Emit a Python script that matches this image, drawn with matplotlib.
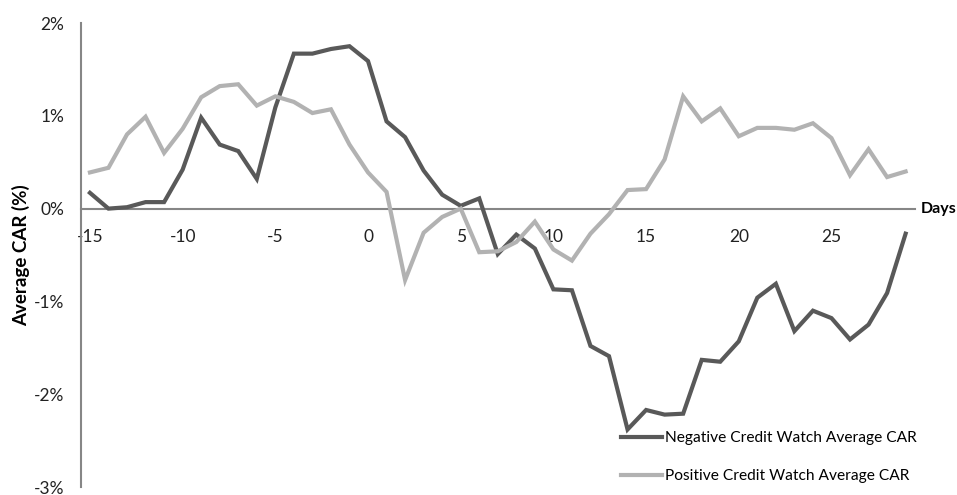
import matplotlib
matplotlib.use("Agg")
import matplotlib.pyplot as plt
import matplotlib.transforms as mtransforms
from matplotlib.ticker import FuncFormatter

days = list(range(-15, 30))
negative_car = [0.17, 0.00, 0.015, 0.07, 0.07, 0.42, 0.98, 0.69, 0.62, 0.32,
                1.09, 1.67, 1.67, 1.72, 1.75, 1.59, 0.94, 0.77, 0.41, 0.15,
                0.03, 0.11, -0.49, -0.28, -0.43, -0.87, -0.88, -1.48, -1.59, -2.38,
                -2.17, -2.22, -2.21, -1.63, -1.65, -1.43, -0.96, -0.81, -1.32, -1.10,
                -1.18, -1.41, -1.25, -0.91, -0.27]
positive_car = [0.39, 0.44, 0.80, 0.99, 0.60, 0.86, 1.20, 1.32, 1.34, 1.11,
                1.21, 1.15, 1.03, 1.07, 0.69, 0.39, 0.18, -0.77, -0.26, -0.09,
                0.00, -0.47, -0.46, -0.36, -0.14, -0.44, -0.56, -0.27, -0.06, 0.20,
                0.21, 0.53, 1.21, 0.94, 1.08, 0.78, 0.87, 0.87, 0.85, 0.92,
                0.76, 0.36, 0.64, 0.34, 0.40]
series_names = ["Negative Credit Watch Average CAR", "Positive Credit Watch Average CAR"]
y_ticks = [-3, -2, -1, 0, 1, 2]
x_ticks = [-15, -10, -5, 0, 5, 10, 15, 20, 25]

plt.rcParams['font.family'] = ['Lato', 'DejaVu Sans']
plt.rcParams['axes.unicode_minus'] = False

fig = plt.figure(figsize=(9.57, 4.95), dpi=100)
ax = fig.add_axes([0.0843, 0.01616, 0.956 - 0.0843, 0.9535 - 0.01616])

ax.plot(days, negative_car, color='#595959', lw=3.0, label=series_names[0], solid_joinstyle='miter')
ax.plot(days, positive_car, color='#b2b2b2', lw=3.0, label=series_names[1], solid_joinstyle='miter')

ax.set_xlim(-15.5, 29.5)
ax.set_ylim(-3, 2)
ax.set_yticks(y_ticks)
ax.yaxis.set_major_formatter(FuncFormatter(lambda v, p: f"{int(round(v))}%"))
ax.set_xticks(x_ticks)

for s in ['top', 'right']:
    ax.spines[s].set_visible(False)
ax.spines['bottom'].set_position(('data', 0))
for s in ['bottom', 'left']:
    ax.spines[s].set_color('#868686')
    ax.spines[s].set_linewidth(1.5)
ax.spines['bottom'].set_zorder(0)
ax.tick_params(axis='y', length=0, pad=12, labelsize=12.5, colors='#222222')
ax.tick_params(axis='x', length=0, pad=15, labelsize=12.5, colors='#222222')

ax.set_ylabel("Average CAR (%)", fontsize=13.5, fontweight='bold')
ax.yaxis.set_label_coords(-0.061, 0.5)

ax.text(1.007, 0, "Days", fontsize=11.5, fontweight='bold', ha='left', va='center',
        transform=mtransforms.blended_transform_factory(ax.transAxes, ax.transData))

leg = ax.legend(loc='lower left', bbox_to_anchor=(0.631, -0.022), frameon=False,
                fontsize=11.2, handlelength=2.6, handletextpad=0.2, labelspacing=1.55)

fig.savefig("out.png", dpi=100)
